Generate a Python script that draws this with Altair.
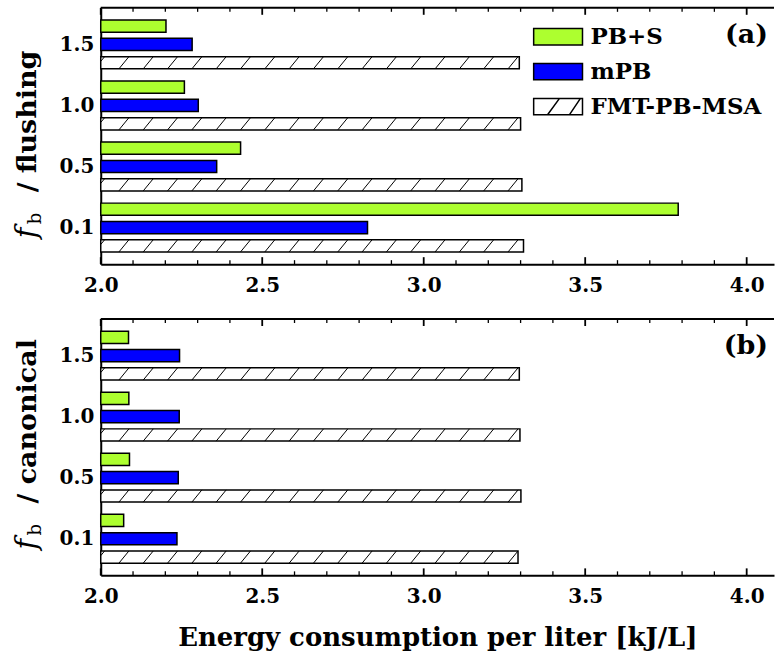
import json
import altair as alt
import pandas as pd

# ---------------- data ----------------
fb_labels = ["0.1", "0.5", "1.0", "1.5"]
series = ["PB+S", "mPB", "FMT-PB-MSA"]
series_colors = ["#adff2f", "#0000ff", "#ffffff"]

flushing_pbs = [3.788, 2.433, 2.259, 2.202]
flushing_mpb = [2.826, 2.359, 2.302, 2.283]
flushing_fmt = [3.309, 3.304, 3.300, 3.296]

canonical_pbs = [2.071, 2.089, 2.087, 2.086]
canonical_mpb = [2.236, 2.240, 2.243, 2.244]
canonical_fmt = [3.292, 3.301, 3.298, 3.296]

x_major = [2.0, 2.5, 3.0, 3.5, 4.0]
x_minor = [2.1, 2.2, 2.3, 2.4, 2.6, 2.7, 2.8, 2.9, 3.1, 3.2, 3.3, 3.4,
           3.6, 3.7, 3.8, 3.9]

# ---------------- layout / style ----------------
X_MIN, X_MAX = 2.0, 4.0846
Y_MIN, Y_MAX = -0.6, 3.6
W, H = 675, 257
OFFSET = {"PB+S": 0.3, "mPB": 0.0, "FMT-PB-MSA": -0.3}
HALF = 0.1
HATCH_SP = 0.0753
HATCH_DX = 0.031
FONT = "DejaVu Serif"

XS = alt.Scale(domain=[X_MIN, X_MAX], nice=False, zero=False)
YS = alt.Scale(domain=[Y_MIN, Y_MAX], nice=False, zero=False)
CS = alt.Scale(domain=series, range=series_colors)
RECT = "M-4.76,-0.96L1,-0.96L1,0.96L-4.76,0.96Z"
HATCH = RECT + "M-3.12,0.96L-1.71,-0.96M-0.53,0.96L0.76,-0.96"
SS = alt.Scale(domain=series, range=[RECT, RECT, HATCH])
KS = alt.Scale(domain=series, range=["black", "black", "black"])


def bar_table(pbs, mpb, fmt):
    rows = []
    for s, vals in zip(series, [pbs, mpb, fmt]):
        for i, (lab, v) in enumerate(zip(fb_labels, vals)):
            yc = i + OFFSET[s]
            rows.append({"series": s, "fb": lab, "pos": yc, "value": v,
                         "y0": yc - HALF, "y1": yc + HALF})
    return pd.DataFrame(rows)


def hatch_table(fmt):
    rows = []
    for i, v in enumerate(fmt):
        yc = i + OFFSET["FMT-PB-MSA"]
        yb, yt = yc - HALF, yc + HALF
        x = X_MIN - HATCH_DX + 0.012
        while x < v:
            x0, y0, x1, y1 = x, yb, x + HATCH_DX, yt
            if x0 < X_MIN:
                t = (X_MIN - x) / HATCH_DX
                x0, y0 = X_MIN, yb + t * (yt - yb)
            if x1 > v:
                t = (v - x) / HATCH_DX
                x1, y1 = v, yb + t * (yt - yb)
            rows.append({"hx0": x0, "hx1": x1, "hy0": y0, "hy1": y1})
            x += HATCH_SP
    return pd.DataFrame(rows)


label_expr = json.dumps(fb_labels) + "[datum.value]"
one = pd.DataFrame({"k": [0]})

LEG = dict(title=None, orient="none", legendX=463, legendY=17.5,
           symbolSize=289, symbolStrokeWidth=1.5, symbolOpacity=1,
           labelFont=FONT, labelFontWeight="bold", labelFontSize=23,
           labelOffset=5, labelLimit=400, rowPadding=11, padding=0,
           labelColor="black")


def panel(pbs, mpb, fmt, tag, word, show_legend, xtitle):
    bars = bar_table(pbs, mpb, fmt)
    xaxis = alt.Axis(values=x_major, format=".1f", ticks=False, grid=False,
                     domainWidth=2, domainColor="black", labelPadding=11,
                     labelFlush=False, labelFontSize=20, labelFont=FONT,
                     labelFontWeight="bold", labelColor="black",
                     title=xtitle if xtitle else None, titleFont=FONT,
                     titleFontWeight="bold", titleFontSize=26,
                     titleColor="black", titlePadding=18)
    yaxis = alt.Axis(values=[0, 1, 2, 3], labelExpr=label_expr, ticks=False,
                     grid=False, title=None, domainWidth=2,
                     domainColor="black", labelPadding=7, labelFontSize=20,
                     labelFont=FONT, labelFontWeight="bold",
                     labelColor="black")
    color = (alt.Color("series:N", scale=CS, legend=alt.Legend(**LEG))
             if show_legend else
             alt.Color("series:N", scale=CS, legend=None))
    bar_layer = alt.Chart(bars).mark_bar(stroke="black", strokeWidth=1.5).encode(
        x=alt.X("value:Q", scale=XS, axis=xaxis),
        x2=alt.datum(X_MIN),
        y=alt.Y("y0:Q", scale=YS, axis=yaxis),
        y2="y1:Q",
        color=color,
    )
    hatch = alt.Chart(hatch_table(fmt)).mark_rule(color="black", strokeWidth=1).encode(
        x=alt.X("hx0:Q", scale=XS),
        x2="hx1:Q",
        y=alt.Y("hy0:Q", scale=YS),
        y2="hy1:Q",
    )
    major = pd.DataFrame({"t": x_major})
    minor = pd.DataFrame({"t": x_minor})
    tk = []
    for df, ln, sw in [(major, 7, 1.8), (minor, 4, 1.3)]:
        tk.append(alt.Chart(df).mark_rule(color="black", strokeWidth=sw).encode(
            x=alt.X("t:Q", scale=XS),
            y=alt.value(H), y2=alt.value(H - ln)))
        tk.append(alt.Chart(df).mark_rule(color="black", strokeWidth=sw).encode(
            x=alt.X("t:Q", scale=XS),
            y=alt.value(0), y2=alt.value(ln)))
    top = alt.Chart(one).mark_rule(color="black", strokeWidth=2).encode(
        x=alt.value(0), x2=alt.value(W), y=alt.value(0))
    tag_t = alt.Chart(one).mark_text(font=FONT, fontWeight="bold", fontSize=27,
                                     align="right", baseline="alphabetic",
                                     color="black").encode(
        x=alt.value(669), y=alt.value(35), text=alt.value(tag))
    f_t = alt.Chart(one).mark_text(font=FONT, fontStyle="italic", fontSize=29,
                                   angle=270, align="left", baseline="alphabetic",
                                   color="black").encode(
        x=alt.value(-65), y=alt.value(231), text=alt.value("f"))
    b_t = alt.Chart(one).mark_text(font=FONT, fontSize=18, angle=270,
                                   align="left", baseline="alphabetic",
                                   color="black").encode(
        x=alt.value(-60), y=alt.value(217), text=alt.value("b"))
    w_t = alt.Chart(one).mark_text(font=FONT, fontWeight="bold", fontSize=27,
                                   angle=270, align="left", baseline="alphabetic",
                                   color="black").encode(
        x=alt.value(-65), y=alt.value(185), text=alt.value("/ " + word))
    layers = [bar_layer, hatch] + tk + [top, tag_t, f_t, b_t, w_t]
    if show_legend:
        leg = alt.Chart(bars).mark_point(filled=True, opacity=0,
                                         strokeWidth=1.5).encode(
            x=alt.X("value:Q", scale=XS),
            y=alt.Y("pos:Q", scale=YS),
            color=alt.Color("series:N", scale=CS, legend=alt.Legend(**LEG)),
            shape=alt.Shape("series:N", scale=SS, legend=alt.Legend(**LEG)),
            stroke=alt.Stroke("series:N", scale=KS, legend=alt.Legend(**LEG)),
        )
        layers.insert(1, leg)
    return alt.layer(*layers).properties(width=W, height=H)


pa = panel(flushing_pbs, flushing_mpb, flushing_fmt, "(a)", "flushing", True, None)
pb = panel(canonical_pbs, canonical_mpb, canonical_fmt, "(b)", "canonical", False,
           "Energy consumption per liter [kJ/L]")

chart = alt.vconcat(pa, pb, spacing=23).resolve_scale(
    color="independent", shape="independent", stroke="independent"
).properties(
    padding={"left": 13, "top": 6, "right": 0, "bottom": 0},
    background="white",
).configure_view(stroke=None)

chart.save("out.html", embed_options={"renderer": "svg", "actions": False})
